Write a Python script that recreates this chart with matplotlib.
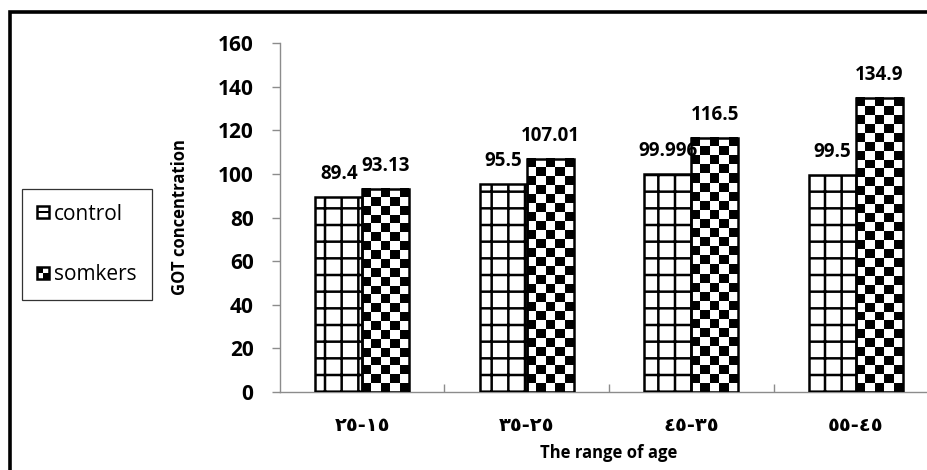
"""Grouped bar chart: GOT concentration by age range, control vs smokers."""

import matplotlib

matplotlib.use("Agg")
import matplotlib.pyplot as plt
import numpy as np
from matplotlib.legend_handler import HandlerBase
from matplotlib.patches import Rectangle

age_ranges = ["٢٥-١٥", "٣٥-٢٥", "٤٥-٣٥", "٥٥-٤٥"]
control = [89.4, 95.5, 99.996, 99.5]
smokers = [93.13, 107.01, 116.5, 134.9]
control_labels = ["89.4", "95.5", "99.996", "99.5"]
smoker_labels = ["93.13", "107.01", "116.5", "134.9"]
series_names = ["control", "somkers"]
y_ticks = [0, 20, 40, 60, 80, 100, 120, 140, 160]

plt.rcParams["font.family"] = ["Open Sans", "DejaVu Sans"]
plt.rcParams["hatch.color"] = "black"
plt.rcParams["hatch.linewidth"] = 1.8

W, H = 928, 470
AXIS_GRAY = "#8c8c8c"


class GridHandler(HandlerBase):
    def create_artists(self, legend, orig_handle, xdescent, ydescent, width, height, fontsize, trans):
        s = min(width, height)
        x0, y0 = -xdescent, -ydescent + (height - s) / 2
        box = Rectangle((x0, y0), s, s, facecolor="white", edgecolor="black", lw=1.8, transform=trans)
        mid = Rectangle((x0, y0 + s / 2 - s * 0.07), s, s * 0.14, facecolor="black", lw=0, transform=trans)
        return [box, mid]


class CheckerHandler(HandlerBase):
    def create_artists(self, legend, orig_handle, xdescent, ydescent, width, height, fontsize, trans):
        s = min(width, height)
        x0, y0 = -xdescent, -ydescent + (height - s) / 2
        box = Rectangle((x0, y0), s, s, facecolor="white", edgecolor="black", lw=1.8, transform=trans)
        tl = Rectangle((x0, y0 + s / 2), s / 2, s / 2, facecolor="black", lw=0, transform=trans)
        br = Rectangle((x0 + s / 2, y0), s / 2, s / 2, facecolor="black", lw=0, transform=trans)
        return [box, tl, br]


fig = plt.figure(figsize=(W / 100, H / 100), dpi=100)
ax = fig.add_axes([280 / W, 1 - 392 / H, 658 / W, 349 / H])

x = np.arange(len(age_ranges))
bw = 0.285
ax.set_xlim(-0.5, len(age_ranges) - 0.5)
ax.set_ylim(0, 160)

bars_c = ax.bar(x - bw / 2, control, bw, facecolor="white", edgecolor="black",
                linewidth=1.8, hatch="+", zorder=3)
bars_s = ax.bar(x + bw / 2, smokers, bw, facecolor="none", edgecolor="black",
                linewidth=1.8, zorder=3)

# checkerboard fill for smokers bars (about 9 px cells)
px_per_unit = ax.transData.transform((0, 1))[1] - ax.transData.transform((0, 0))[1]
for rect in bars_s:
    h = rect.get_height()
    nrows = max(1, int(round(h * px_per_unit / 9)))
    ncols = 5
    board = np.indices((nrows, ncols)).sum(axis=0) % 2
    ax.imshow(board, cmap="gray", vmin=0, vmax=1, origin="upper", interpolation="nearest",
              extent=(rect.get_x(), rect.get_x() + rect.get_width(), 0, h),
              aspect="auto", zorder=2)
ax.set_xlim(-0.5, len(age_ranges) - 0.5)
ax.set_ylim(0, 160)

ax.bar_label(bars_c, labels=control_labels, padding=9, fontsize=13.5, fontweight="bold", zorder=4)
ax.bar_label(bars_s, labels=smoker_labels, padding=9, fontsize=13.5, fontweight="bold", zorder=4)

for side in ["top", "right"]:
    ax.spines[side].set_visible(False)
for side in ["left", "bottom"]:
    ax.spines[side].set_color(AXIS_GRAY)
    ax.spines[side].set_linewidth(1.0)

ax.set_yticks(y_ticks)
ax.tick_params(axis="y", direction="out", length=6, width=1, color=AXIS_GRAY,
               pad=13, labelsize=15)
for t in ax.get_yticklabels():
    t.set_fontweight("bold")

ax.set_xticks(x)
ax.set_xticklabels(age_ranges, fontweight="bold", family=["DejaVu Sans"])
ax.tick_params(axis="x", which="major", length=0, pad=17, labelsize=14)
ax.set_xticks(x[:-1] + 0.5, minor=True)
ax.tick_params(axis="x", which="minor", direction="in", length=6, width=1, color=AXIS_GRAY)

ax.set_xlabel("The range of age", fontsize=12, fontweight="bold", labelpad=7)
ax.set_ylabel("GOT concentration", fontsize=12, fontweight="bold")
ax.yaxis.set_label_coords((189 - 280) / 658, 0.5)

handles = [Rectangle((0, 0), 1, 1), Rectangle((0, 1), 1, 1)]
leg = fig.legend(handles, series_names, loc="upper left", bbox_to_anchor=(22 / W, 1 - 189 / H),
                 fontsize=15, frameon=True, fancybox=False, handlelength=0.6, handleheight=0.6,
                 handletextpad=0.25, labelspacing=1.9, borderpad=0.7, borderaxespad=0,
                 handler_map={handles[0]: GridHandler(), handles[1]: CheckerHandler()})
leg.get_frame().set_edgecolor("black")
leg.get_frame().set_linewidth(0.9)

# outer chart border (right and bottom are cut off in the source)
fig.add_artist(Rectangle((10 / W, -0.5), 2, (H - 11.5) / H + 0.5, transform=fig.transFigure,
                         fill=False, edgecolor="black", linewidth=2.6))

fig.savefig("out.png", dpi=100)
